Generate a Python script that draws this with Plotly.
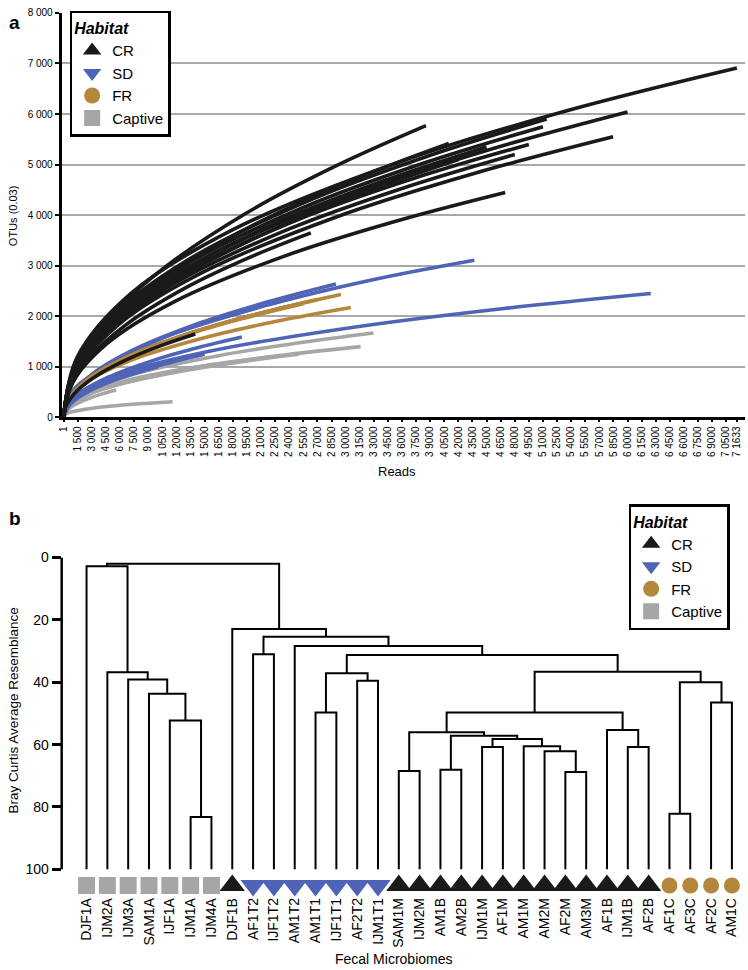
import plotly.graph_objects as go

# ---------------- Panel a: rarefaction curves (reads, OTUs) ----------------
cr_reads = [
    [1, 1433, 7163, 17908, 35817, 53725, 71633],
    [1, 1200, 6000, 15000, 30000, 45000, 60000],
    [1, 1169, 5846, 14615, 29230, 43845, 58460],
    [1, 940, 4698, 11745, 23490, 35235, 46980],
    [1, 771, 3855, 9638, 19275, 28913, 38550],
    [1, 820, 4098, 10245, 20490, 30735, 40980],
    [1, 1028, 5140, 12850, 25700, 38550, 51400],
    [1, 990, 4950, 12375, 24750, 37125, 49500],
    [1, 1020, 5100, 12750, 25500, 38250, 51000],
    [1, 900, 4500, 11250, 22500, 33750, 45000],
    [1, 526, 2630, 6575, 13150, 19725, 26300],
    [1, 960, 4800, 12000, 24000, 36000, 48000],
    [1, 840, 4200, 10500, 21000, 31500, 42000],
    [1, 280, 1400, 3500, 7000, 10500, 14000],
]
cr_otus = [
    [1, 1188, 2453, 3704, 5058, 6074, 6910],
    [1, 960, 2048, 3147, 4361, 5279, 6040],
    [1, 849, 1837, 2853, 3979, 4834, 5550],
    [1, 681, 1473, 2287, 3191, 3876, 4450],
    [1, 756, 1743, 2804, 4022, 4968, 5770],
    [1, 764, 1713, 2710, 3832, 4694, 5420],
    [1, 938, 2000, 3074, 4260, 5157, 5900],
    [1, 859, 1831, 2813, 3899, 4720, 5400],
    [1, 914, 1949, 2996, 4152, 5026, 5750],
    [1, 819, 1771, 2750, 3836, 4660, 5350],
    [1, 516, 1154, 1825, 2581, 3161, 3650],
    [1, 796, 1721, 2673, 3728, 4529, 5200],
    [1, 719, 1612, 2550, 3606, 4417, 5100],
    [1, 233, 521, 825, 1167, 1429, 1650],
]
sd_reads = [
    [1, 874, 4370, 10925, 21850, 32775, 43700],
    [1, 1249, 6247, 15618, 31235, 46853, 62470],
    [1, 579, 2897, 7243, 14485, 21728, 28970],
    [1, 379, 1896, 4740, 9480, 14220, 18960],
    [1, 200, 1000, 2500, 5000, 7500, 10000],
    [1, 300, 1500, 3750, 7500, 11250, 15000],
    [1, 480, 2400, 6000, 12000, 18000, 24000],
]
sd_otus = [
    [1, 500, 1000, 1600, 2230, 2720, 3110],
    [1, 421, 870, 1313, 1793, 2154, 2450],
    [1, 373, 835, 1320, 1867, 2286, 2640],
    [1, 225, 503, 795, 1124, 1377, 1590],
    [1, 141, 316, 500, 707, 866, 1000],
    [1, 177, 395, 625, 884, 1083, 1250],
    [1, 337, 728, 1131, 1577, 1916, 2200],
]
fr_reads = [
    [1, 590, 2950, 7375, 14750, 22125, 29500],
    [1, 611, 3055, 7638, 15275, 22913, 30550],
    [1, 540, 2700, 6750, 13500, 20250, 27000],
    [1, 510, 2550, 6375, 12750, 19125, 25500],
]
fr_otus = [
    [1, 372, 804, 1249, 1742, 2117, 2430],
    [1, 374, 772, 1166, 1592, 1912, 2175],
    [1, 356, 771, 1198, 1671, 2029, 2330],
    [1, 344, 745, 1157, 1613, 1960, 2250],
]
cap_reads = [
    [1, 659, 3297, 8243, 16485, 24728, 32970],
    [1, 632, 3160, 7900, 15800, 23700, 31600],
    [1, 232, 1159, 2898, 5795, 8693, 11590],
    [1, 112, 558, 1395, 2790, 4185, 5580],
    [1, 430, 2150, 5375, 10750, 16125, 21500],
    [1, 500, 2500, 6250, 12500, 18750, 25000],
    [1, 320, 1600, 4000, 8000, 12000, 16000],
]
cap_otus = [
    [1, 287, 593, 895, 1222, 1468, 1670],
    [1, 270, 532, 783, 1046, 1240, 1400],
    [1, 65, 123, 178, 235, 276, 310],
    [1, 77, 172, 272, 385, 471, 544],
    [1, 203, 419, 632, 864, 1037, 1180],
    [1, 215, 444, 670, 915, 1099, 1250],
    [1, 181, 373, 563, 769, 923, 1050],
]

read_ticks = [1] + [1500 * k for k in range(1, 48)] + [71633]
otu_ticks = [0, 1000, 2000, 3000, 4000, 5000, 6000, 7000, 8000]

# ---------------- Panel b: dendrogram ----------------
leaves = ["DJF1A", "IJM2A", "IJM3A", "SAM1A", "IJF1A", "IJM1A", "IJM4A",
          "DJF1B", "AF1T2", "IJF1T2", "AM1T2", "AM1T1", "IJF1T1", "AF2T2",
          "IJM1T1", "SAM1M", "IJM2M", "AM1B", "AM2B", "IJM1M", "AF1M",
          "AM1M", "AM2M", "AF2M", "AM3M", "AF1B", "IJM1B", "AF2B",
          "AF1C", "AF3C", "AF2C", "AM1C"]
leaf_habitat = ["Captive"] * 7 + ["CR"] + ["SD"] * 7 + ["CR"] * 13 + ["FR"] * 4
# merges: (child a, child b, resemblance); new node ids start at len(leaves)
merges = [
    (5, 6, 83.2), (4, 32, 52.3), (3, 33, 43.7), (2, 34, 39.1), (1, 35, 36.8),
    (0, 36, 2.8), (8, 9, 31.0), (11, 12, 49.7), (13, 14, 39.5), (39, 40, 37.1),
    (15, 16, 68.5), (17, 18, 68.1), (19, 20, 60.8), (23, 24, 68.8),
    (22, 45, 62.1), (21, 46, 60.5), (44, 47, 58.2), (43, 48, 57.2),
    (42, 49, 56.0), (26, 27, 60.8), (25, 51, 55.3), (50, 52, 49.7),
    (28, 29, 82.2), (30, 31, 46.5), (54, 55, 40.0), (53, 56, 36.6),
    (41, 57, 31.3), (10, 58, 28.4), (38, 59, 25.4), (7, 60, 22.9),
    (37, 61, 2.0),
]
leaf_level = 105.2   # where the habitat symbols sit, below the 100 line

habitats = ["CR", "SD", "FR", "Captive"]
colors = {"CR": "#1a1a1a", "SD": "#4f64b6", "FR": "#b5873c", "Captive": "#a6a6a6"}
symbols = {"CR": "triangle-up", "SD": "triangle-down", "FR": "circle", "Captive": "square"}
msize = {"CR": 22, "SD": 22, "FR": 16, "Captive": 17}

FONT = "Liberation Sans, Arial, sans-serif"
fig = go.Figure()

# curves: draw gray, blue, orange, black
for hab, R, O in [("Captive", cap_reads, cap_otus), ("SD", sd_reads, sd_otus),
                  ("FR", fr_reads, fr_otus), ("CR", cr_reads, cr_otus)]:
    for xs, ys in zip(R, O):
        fig.add_trace(go.Scatter(x=xs, y=ys, mode="lines",
                                 line=dict(color=colors[hab], width=3.6, shape="spline", smoothing=1.0),
                                 showlegend=False, hoverinfo="skip", xaxis="x", yaxis="y"))

# legend panel a
for hab in habitats:
    fig.add_trace(go.Scatter(x=[None], y=[None], mode="markers", name=hab,
                             marker=dict(symbol=symbols[hab], color=colors[hab], size=16),
                             legend="legend", xaxis="x", yaxis="y"))

# dendrogram
n = len(leaves)
pos = {i: float(i) for i in range(n)}
hgt = {i: 100.0 for i in range(n)}
dx, dy = [], []
for k, (a, b, h) in enumerate(merges):
    node = n + k
    dx += [pos[a], pos[a], pos[b], pos[b], None]
    dy += [hgt[a], h, h, hgt[b], None]
    pos[node] = (pos[a] + pos[b]) / 2
    hgt[node] = h
fig.add_trace(go.Scatter(x=dx, y=dy, mode="lines", line=dict(color="black", width=2),
                         showlegend=False, hoverinfo="skip", xaxis="x2", yaxis="y2",
                         cliponaxis=False))

for hab in habitats:
    idx = [i for i, hh in enumerate(leaf_habitat) if hh == hab]
    fig.add_trace(go.Scatter(x=idx, y=[leaf_level] * len(idx), mode="markers",
                             marker=dict(symbol=symbols[hab], color=colors[hab], size=msize[hab]),
                             showlegend=False, cliponaxis=False, hoverinfo="skip",
                             xaxis="x2", yaxis="y2"))
    fig.add_trace(go.Scatter(x=[None], y=[None], mode="markers", name=hab,
                             marker=dict(symbol=symbols[hab], color=colors[hab], size=16),
                             legend="legend2", xaxis="x2", yaxis="y2"))

W, H = 748, 970
def px(x): return x / W
def py(y): return 1 - y / H

def fmt(v):
    s = str(v)
    return s if len(s) == 1 else s[0] + " " + s[1:]

legend_style = dict(xanchor="left", yanchor="top", bgcolor="white",
                    bordercolor="black", borderwidth=2.5,
                    font=dict(size=15, family=FONT, color="black"),
                    title=dict(text="<b><i>Habitat</i></b>", font=dict(size=16, family=FONT)),
                    itemsizing="trace", tracegroupgap=0)

# panel b: 0..100 spans 557..873 px; extend range to 108 so symbols are inside
b_top, b_px_per = 557, 3.16
b_max = 108

fig.update_layout(
    width=W, height=H, margin=dict(l=0, r=0, t=0, b=0),
    paper_bgcolor="white", plot_bgcolor="white",
    font=dict(family=FONT, color="black"),
    xaxis=dict(domain=[px(58), px(745)], anchor="y", range=[-210, 72500],
               tickmode="array", tickvals=read_ticks, ticktext=[fmt(v) for v in read_ticks],
               tickangle=-90, tickfont=dict(size=10), ticks="outside", ticklen=2,
               tickwidth=1.5, tickcolor="black",
               showline=True, linewidth=3, linecolor="black", showgrid=False, zeroline=False),
    yaxis=dict(domain=[py(415), py(5)], anchor="x", range=[0, 8000],
               tickmode="array", tickvals=otu_ticks, ticktext=[fmt(v) for v in otu_ticks],
               tickfont=dict(size=10), ticks="outside", ticklen=4, tickwidth=1.5, tickcolor="black",
               showline=True, linewidth=3, linecolor="black",
               showgrid=True, gridcolor="#a8a8a8", gridwidth=2, zeroline=False),
    xaxis2=dict(domain=[px(58), px(745)], anchor="y2", range=[-1.194, 31.63],
                tickmode="array", tickvals=list(range(n)), ticktext=leaves,
                tickangle=-90, tickfont=dict(size=14), ticks="", ticklabelstandoff=0,
                showline=False, showgrid=False, zeroline=False),
    yaxis2=dict(domain=[py(b_top + b_max * b_px_per), py(b_top)], anchor="x2", range=[b_max, 0],
                tickmode="array", tickvals=[0, 20, 40, 60, 80, 100],
                tickfont=dict(size=14), ticks="outside", ticklen=9, tickwidth=2.5, tickcolor="black",
                showline=False, showgrid=False, zeroline=False),
    shapes=[dict(type="line", xref="paper", yref="y2", x0=px(58), x1=px(58), y0=0, y1=100,
                 line=dict(color="black", width=2.5))],
    legend=dict(x=px(66), y=py(3), **legend_style),
    legend2=dict(x=px(628), y=py(503), **legend_style),
    annotations=[
        dict(text="<b>a</b>", x=px(3), y=py(2), xref="paper", yref="paper",
             xanchor="left", yanchor="top", showarrow=False, font=dict(size=19)),
        dict(text="<b>b</b>", x=px(3), y=py(505), xref="paper", yref="paper",
             xanchor="left", yanchor="top", showarrow=False, font=dict(size=19)),
        dict(text="OTUs (0.03)", x=px(9), y=py(210), xref="paper", yref="paper",
             xanchor="center", yanchor="middle",
             textangle=-90, showarrow=False, font=dict(size=11)),
        dict(text="Reads", x=px(395), y=py(470), xref="paper", yref="paper",
             xanchor="center", yanchor="middle", showarrow=False, font=dict(size=13)),
        dict(text="Bray Curtis Average Resemblance", x=px(10), y=py(712), xref="paper", yref="paper",
             xanchor="center", yanchor="middle",
             textangle=-90, showarrow=False, font=dict(size=13.5)),
        dict(text="Fecal Microbiomes", x=px(392), y=py(964), xref="paper", yref="paper",
             xanchor="center", yanchor="middle", showarrow=False, font=dict(size=14)),
    ],
)

fig.write_html("out.html", config={"displayModeBar": False},
               post_script="document.body.style.margin='0px';")
